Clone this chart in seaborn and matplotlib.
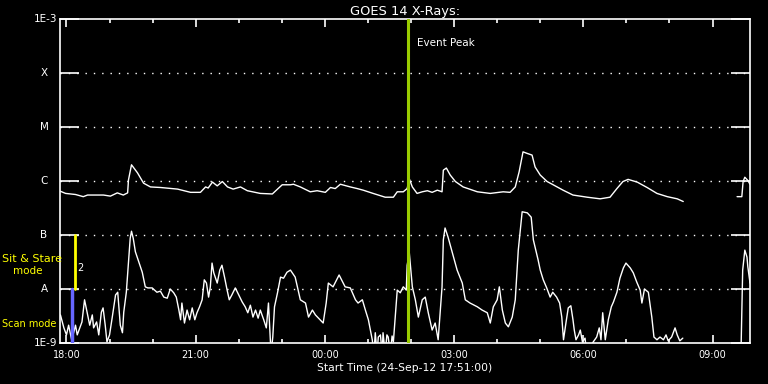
import numpy as np
import pandas as pd
import matplotlib
matplotlib.use("Agg")
import matplotlib.pyplot as plt
import matplotlib.transforms as mtransforms
import seaborn as sns

# ---------------- data (hours after 18:00, log10 flux W/m^2) ----------------
long_t = [-0.14, -0.02, 0.21, 0.39, 0.49, 0.86, 1.02, 1.18, 1.32, 1.42, 1.44, 1.51, 1.65, 1.79,
          1.95, 2.18, 2.58, 2.88, 3.11, 3.23, 3.29, 3.39, 3.50, 3.62, 3.74, 3.87, 4.04, 4.20,
          4.50, 4.78, 4.90, 5.01, 5.20, 5.27, 5.43, 5.66, 5.82, 6.01, 6.13, 6.24, 6.36, 6.59,
          6.75, 6.89, 7.12, 7.40, 7.59, 7.68, 7.82, 7.91, 7.96, 8.03, 8.14, 8.26, 8.38, 8.49,
          8.61, 8.72, 8.75, 8.82, 8.91, 9.03, 9.21, 9.54, 9.84, 10.14, 10.30, 10.42, 10.51,
          10.60, 10.70, 10.81, 10.88, 11.00, 11.16, 11.30, 11.53, 11.76, 12.09, 12.39, 12.62,
          12.78, 12.92, 13.04, 13.25, 13.48, 13.71, 13.95, 14.18, 14.32,
          15.57, 15.68, 15.71, 15.75, 15.82, 15.87]
long_log = [-6.19, -6.23, -6.25, -6.29, -6.26, -6.26, -6.28, -6.22, -6.26, -6.22, -5.98, -5.70,
            -5.85, -6.04, -6.11, -6.12, -6.15, -6.21, -6.21, -6.11, -6.13, -6.02, -6.09, -6.01,
            -6.11, -6.15, -6.11, -6.18, -6.23, -6.24, -6.15, -6.07, -6.07, -6.06, -6.11, -6.20,
            -6.18, -6.21, -6.12, -6.14, -6.06, -6.11, -6.14, -6.17, -6.23, -6.30, -6.30, -6.20,
            -6.20, -6.14, -5.96, -6.11, -6.23, -6.20, -6.18, -6.21, -6.17, -6.20, -5.80, -5.76,
            -5.89, -6.01, -6.11, -6.20, -6.23, -6.20, -6.21, -6.11, -5.83, -5.46, -5.49, -5.52,
            -5.74, -5.89, -6.01, -6.07, -6.17, -6.26, -6.30, -6.33, -6.30, -6.14, -6.01, -5.97,
            -6.02, -6.12, -6.23, -6.29, -6.33, -6.38,
            -6.29, -6.29, -6.01, -5.93, -5.99, -6.06]

short_t = [
    -0.14, -0.06, 0.00, 0.05, 0.12, 0.17, 0.21, 0.25, 0.31, 0.36,
    0.42, 0.48, 0.54, 0.60, 0.63, 0.70, 0.75, 0.81, 0.85, 0.90,
    0.94, 1.00, 1.06, 1.14, 1.19, 1.25, 1.30, 1.33, 1.39, 1.43,
    1.48, 1.51, 1.55, 1.60, 1.68, 1.76, 1.83, 1.89, 1.99, 2.10,
    2.18, 2.26, 2.34, 2.41, 2.49, 2.55, 2.61, 2.65, 2.68, 2.74,
    2.80, 2.86, 2.92, 2.98, 3.03, 3.09, 3.15, 3.20, 3.25, 3.30,
    3.34, 3.38, 3.42, 3.50, 3.56, 3.61, 3.67, 3.73, 3.78, 3.84,
    3.92, 4.00, 4.08, 4.15, 4.21, 4.27, 4.33, 4.39, 4.45, 4.50,
    4.58, 4.64, 4.69, 4.75, 4.79, 4.83, 4.90, 4.97, 5.04, 5.12,
    5.20, 5.31, 5.43, 5.55, 5.62, 5.71, 5.78, 5.89, 5.96, 6.03,
    6.08, 6.19, 6.33, 6.47, 6.59, 6.71, 6.77, 6.87, 6.94, 7.01,
    7.10, 7.14, 7.17, 7.21, 7.24, 7.29, 7.33, 7.35, 7.40, 7.44,
    7.47, 7.52, 7.56, 7.59, 7.68, 7.75, 7.82, 7.89, 7.91, 7.96,
    8.03, 8.10, 8.17, 8.26, 8.33, 8.40, 8.49, 8.56, 8.63, 8.72,
    8.75, 8.79, 8.86, 8.96, 9.07, 9.19, 9.26, 9.37, 9.54, 9.65,
    9.77, 9.84, 9.91, 10.00, 10.05, 10.12, 10.19, 10.26, 10.35, 10.42,
    10.49, 10.58, 10.70, 10.79, 10.84, 10.95,
    11.00, 11.07, 11.15, 11.23, 11.29, 11.38, 11.45, 11.50, 11.54, 11.60,
    11.65, 11.71, 11.76, 11.79, 11.83, 11.89, 11.93, 11.98, 12.04, 12.08,
    12.23, 12.31, 12.37, 12.41, 12.45, 12.51, 12.58, 12.65, 12.70, 12.78,
    12.85, 12.93, 12.99, 13.09, 13.16, 13.24, 13.32, 13.36, 13.42, 13.51,
    13.59, 13.64, 13.71, 13.78, 13.86, 13.92, 13.97, 14.05, 14.13, 14.18,
    14.24, 14.31,
    15.66, 15.70, 15.75, 15.80, 15.82, 15.87]
short_log = [
    -8.48, -8.72, -8.85, -8.67, -8.94, -8.80, -8.67, -8.85, -8.72, -8.61,
    -8.20, -8.43, -8.67, -8.48, -8.72, -8.61, -8.85, -8.43, -8.35, -8.67,
    -8.98, -8.85, -8.54, -8.11, -8.06, -8.67, -8.81, -8.43, -8.06, -7.61,
    -7.06, -6.93, -7.06, -7.31, -7.50, -7.69, -7.96, -7.98, -7.98, -8.06,
    -8.04, -8.15, -8.17, -8.00, -8.07, -8.15, -8.39, -8.57, -8.26, -8.63,
    -8.39, -8.57, -8.35, -8.57, -8.44, -8.33, -8.20, -7.83, -7.89, -8.15,
    -7.96, -7.52, -7.70, -7.89, -7.65, -7.56, -7.78, -8.02, -8.20, -8.11,
    -7.98, -8.11, -8.24, -8.33, -8.44, -8.30, -8.52, -8.39, -8.54, -8.39,
    -8.57, -8.72, -8.26, -9.20, -8.89, -8.33, -8.07, -7.78, -7.80, -7.69,
    -7.65, -7.78, -8.20, -8.26, -8.52, -8.39, -8.48, -8.57, -8.63, -8.26,
    -7.89, -7.96, -7.74, -7.96, -7.98, -8.20, -8.26, -8.20, -8.39, -8.57,
    -8.94, -9.20, -8.81, -9.20, -8.89, -8.85, -9.20, -8.81, -9.20, -8.85,
    -8.89, -9.20, -8.87, -8.98, -8.02, -8.07, -7.96, -8.02, -7.56, -7.33,
    -7.96, -8.20, -8.52, -8.20, -8.15, -8.44, -8.76, -8.63, -8.94, -7.96,
    -7.09, -6.87, -7.04, -7.33, -7.65, -7.89, -8.20, -8.26, -8.33, -8.39,
    -8.44, -8.63, -8.33, -8.20, -7.96, -8.39, -8.63, -8.70, -8.52, -8.20,
    -7.28, -6.57, -6.59, -6.67, -7.09, -7.46,
    -7.65, -7.83, -7.98, -8.15, -8.06, -8.15, -8.26, -8.52, -8.94, -8.61,
    -8.35, -8.31, -8.57, -8.76, -8.94, -8.85, -8.76, -8.98, -8.91, -9.20,
    -8.98, -8.89, -8.72, -8.94, -8.44, -8.94, -8.57, -8.33, -8.24, -8.06,
    -7.80, -7.61, -7.52, -7.61, -7.70, -7.87, -8.02, -8.26, -8.00, -8.06,
    -8.52, -8.89, -8.94, -8.89, -8.94, -8.85, -8.96, -8.89, -8.72, -8.85,
    -8.96, -8.91,
    -9.20, -7.65, -7.28, -7.41, -7.59, -7.89]

data_gap_after = 15.0  # data resume after the gap (hours after 18:00)

event_peak_t = 7.93
scan_t = 0.12
stare_t = 0.19

decade_vals = [1e-9, 1e-8, 1e-7, 1e-6, 1e-5, 1e-4, 1e-3]
decade_labels = ["1E-9", "A", "B", "C", "M", "X", "1E-3"]
hour_ticks = list(range(0, 16))
major_ticks = [0, 3, 6, 9, 12, 15]
major_labels = ["18:00", "21:00", "00:00", "03:00", "06:00", "09:00"]

# ---------------- figure ----------------
sns.set_style("dark")
plt.rcParams["font.family"] = ["DejaVu Sans"]

fig = plt.figure(figsize=(7.68, 3.84), dpi=100, facecolor="black")
ax = fig.add_axes([60 / 768, 41 / 384, 690 / 768, 324 / 384])
ax.set_facecolor("black")

df_long = pd.DataFrame({"t": long_t, "flux": np.power(10.0, long_log)})
df_long["seg"] = (df_long["t"] > data_gap_after).astype(int)
df_short = pd.DataFrame({"t": short_t, "flux": np.power(10.0, short_log)})
df_short["seg"] = (df_short["t"] > data_gap_after).astype(int)

sns.lineplot(data=df_long, x="t", y="flux", units="seg", estimator=None,
             color="white", lw=1.0, ax=ax)
sns.lineplot(data=df_short, x="t", y="flux", units="seg", estimator=None,
             color="white", lw=1.0, ax=ax)

ax.set_yscale("log")
ax.set_ylim(1e-9, 1e-3)
ax.set_xlim(-0.15, 15.87)

# dotted grid at the class levels
for v in decade_vals[1:-1]:
    ax.axhline(v, color="white", lw=1.0, ls=(0, (1, 5)), zorder=1)

# event peak line
ax.axvline(event_peak_t, color="#99cc00", lw=2.2, zorder=3)
ax.text(event_peak_t + 0.22, 10 ** -3.45, "Event Peak", color="white", fontsize=7.5,
        va="center", ha="left")

# mode bars
ax.plot([scan_t, scan_t], [1e-9, 1e-8], color="#6666ff", lw=2.5, zorder=4)
ax.plot([stare_t, stare_t], [1e-8, 1e-7], color="yellow", lw=2.0, zorder=4)
ax.text(stare_t + 0.05, 10 ** -7.62, "2", color="white", fontsize=7, va="center", ha="left")

# spines
for s in ax.spines.values():
    s.set_color("white")
    s.set_linewidth(1.2)

# y ticks
ax.set_yticks(decade_vals)
ax.yaxis.set_minor_locator(matplotlib.ticker.NullLocator())
ax.tick_params(axis="y", which="major", direction="in", length=14, width=1.2,
               color="white", left=True, right=True, labelleft=False)
ytrans = mtransforms.blended_transform_factory(fig.transFigure, ax.transData)
for v, lab in zip(decade_vals, decade_labels):
    if lab.startswith("1E"):
        fig.text(57 / 768, v, lab, transform=ytrans, color="white", fontsize=7.5,
                 ha="right", va="center")
    else:
        fig.text(44 / 768, v, lab, transform=ytrans, color="white", fontsize=7.5,
                 ha="center", va="center")

# x ticks
ax.set_xticks(major_ticks)
ax.set_xticklabels(major_labels)
ax.set_xticks(hour_ticks, minor=True)
ax.tick_params(axis="x", which="major", direction="in", length=6, width=1.2,
               color="white", top=True, bottom=True, labelcolor="white",
               labelsize=7, pad=5)
ax.tick_params(axis="x", which="minor", direction="in", length=3, width=1.2,
               color="white", top=True, bottom=True)
ax.set_xlabel("Start Time (24-Sep-12 17:51:00)", color="white", fontsize=7.75, labelpad=2)
ax.set_ylabel("")
ax.set_title("GOES 14 X-Rays:", color="white", fontsize=9.4, pad=3)
ax.grid(False)

# mode labels on the left
fig.text(2 / 768, 1 - 259 / 384, "Sit & Stare", color="yellow", fontsize=8,
         ha="left", va="center")
fig.text(13 / 768, 1 - 271 / 384, "mode", color="yellow", fontsize=7.5,
         ha="left", va="center")
fig.text(2 / 768, 1 - 324 / 384, "Scan mode", color="yellow", fontsize=7,
         ha="left", va="center")

fig.savefig("out.png", dpi=100, facecolor="black")
